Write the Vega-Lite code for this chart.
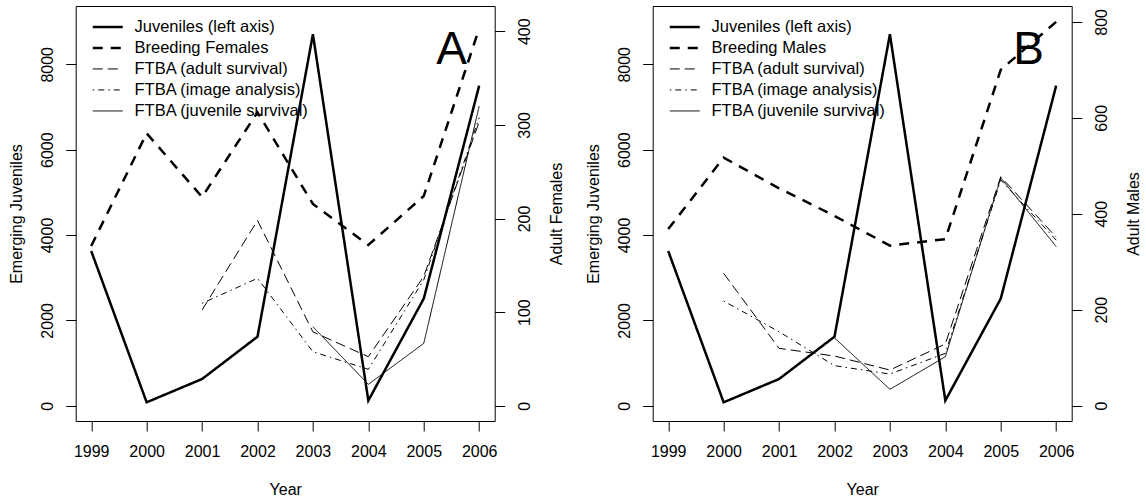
{
  "$schema": "https://vega.github.io/schema/vega-lite/v6.json",
  "autosize": "none",
  "padding": {"left": 75.7, "top": 6, "right": 1070.3, "bottom": 496},
  "background": "white",
  "bounds": "flush",
  "spacing": 158,
  "resolve": {"scale": {"strokeDash": "independent", "strokeWidth": "independent"}, "legend": {"strokeDash": "independent", "strokeWidth": "independent"}},
  "config": {
    "font": "Liberation Sans",
    "view": {"stroke": "black", "strokeWidth": 1},
    "axis": {"grid": false, "domain": false, "tickColor": "black", "tickWidth": 1, "tickSize": 10, "labelColor": "black", "titleColor": "black", "labelFontSize": 16, "titleFontSize": 16, "titleFontWeight": "normal", "labelFlush": false, "labelOverlap": false},
    "legend": {"orient": "none", "legendX": 23.8, "legendY": 12.7, "title": null, "symbolType": "M-2.5,0H2.5", "symbolSize": 144, "symbolStrokeColor": "black", "labelFontSize": 16.5, "labelColor": "black", "labelOffset": 18.5, "labelLimit": 0, "rowPadding": 4, "padding": 0}
  },
  "datasets": {
    "juvA": [
      {"year": 1999, "series": "Juveniles (left axis)", "value": 3625},
      {"year": 2000, "series": "Juveniles (left axis)", "value": 80},
      {"year": 2001, "series": "Juveniles (left axis)", "value": 626},
      {"year": 2002, "series": "Juveniles (left axis)", "value": 1617},
      {"year": 2003, "series": "Juveniles (left axis)", "value": 8703},
      {"year": 2004, "series": "Juveniles (left axis)", "value": 120},
      {"year": 2005, "series": "Juveniles (left axis)", "value": 2510},
      {"year": 2006, "series": "Juveniles (left axis)", "value": 7499},
      {"year": 2001, "series": "FTBA (adult survival)", "value": 2243},
      {"year": 2002, "series": "FTBA (adult survival)", "value": 4340},
      {"year": 2003, "series": "FTBA (adult survival)", "value": 1730},
      {"year": 2004, "series": "FTBA (adult survival)", "value": 1148},
      {"year": 2005, "series": "FTBA (adult survival)", "value": 3030},
      {"year": 2006, "series": "FTBA (adult survival)", "value": 6650},
      {"year": 2001, "series": "FTBA (image analysis)", "value": 2400},
      {"year": 2002, "series": "FTBA (image analysis)", "value": 2985},
      {"year": 2003, "series": "FTBA (image analysis)", "value": 1265},
      {"year": 2004, "series": "FTBA (image analysis)", "value": 853},
      {"year": 2005, "series": "FTBA (image analysis)", "value": 2950},
      {"year": 2006, "series": "FTBA (image analysis)", "value": 6750},
      {"year": 2003, "series": "FTBA (juvenile survival)", "value": 1851},
      {"year": 2004, "series": "FTBA (juvenile survival)", "value": 501},
      {"year": 2005, "series": "FTBA (juvenile survival)", "value": 1461},
      {"year": 2006, "series": "FTBA (juvenile survival)", "value": 7020}
    ],
    "breedA": [
      {"year": 1999, "series": "Breeding Females", "value": 170.6},
      {"year": 2000, "series": "Breeding Females", "value": 291},
      {"year": 2001, "series": "Breeding Females", "value": 223},
      {"year": 2002, "series": "Breeding Females", "value": 313.5},
      {"year": 2003, "series": "Breeding Females", "value": 215.5},
      {"year": 2004, "series": "Breeding Females", "value": 171.7},
      {"year": 2005, "series": "Breeding Females", "value": 224},
      {"year": 2006, "series": "Breeding Females", "value": 403}
    ],
    "juvB": [
      {"year": 1999, "series": "Juveniles (left axis)", "value": 3625},
      {"year": 2000, "series": "Juveniles (left axis)", "value": 80},
      {"year": 2001, "series": "Juveniles (left axis)", "value": 626},
      {"year": 2002, "series": "Juveniles (left axis)", "value": 1617},
      {"year": 2003, "series": "Juveniles (left axis)", "value": 8703},
      {"year": 2004, "series": "Juveniles (left axis)", "value": 120},
      {"year": 2005, "series": "Juveniles (left axis)", "value": 2510},
      {"year": 2006, "series": "Juveniles (left axis)", "value": 7499},
      {"year": 2000, "series": "FTBA (adult survival)", "value": 3102},
      {"year": 2001, "series": "FTBA (adult survival)", "value": 1344},
      {"year": 2002, "series": "FTBA (adult survival)", "value": 1164},
      {"year": 2003, "series": "FTBA (adult survival)", "value": 836},
      {"year": 2004, "series": "FTBA (adult survival)", "value": 1446},
      {"year": 2005, "series": "FTBA (adult survival)", "value": 5366},
      {"year": 2006, "series": "FTBA (adult survival)", "value": 3950},
      {"year": 2000, "series": "FTBA (image analysis)", "value": 2453},
      {"year": 2001, "series": "FTBA (image analysis)", "value": 1734},
      {"year": 2002, "series": "FTBA (image analysis)", "value": 938},
      {"year": 2003, "series": "FTBA (image analysis)", "value": 742},
      {"year": 2004, "series": "FTBA (image analysis)", "value": 1227},
      {"year": 2005, "series": "FTBA (image analysis)", "value": 5290},
      {"year": 2006, "series": "FTBA (image analysis)", "value": 3880},
      {"year": 2002, "series": "FTBA (juvenile survival)", "value": 1590},
      {"year": 2003, "series": "FTBA (juvenile survival)", "value": 384},
      {"year": 2004, "series": "FTBA (juvenile survival)", "value": 1148},
      {"year": 2005, "series": "FTBA (juvenile survival)", "value": 5340},
      {"year": 2006, "series": "FTBA (juvenile survival)", "value": 3730}
    ],
    "breedB": [
      {"year": 1999, "series": "Breeding Males", "value": 368},
      {"year": 2000, "series": "Breeding Males", "value": 517},
      {"year": 2001, "series": "Breeding Males", "value": 453},
      {"year": 2002, "series": "Breeding Males", "value": 395.5},
      {"year": 2003, "series": "Breeding Males", "value": 333.6},
      {"year": 2004, "series": "Breeding Males", "value": 347},
      {"year": 2005, "series": "Breeding Males", "value": 700},
      {"year": 2006, "series": "Breeding Males", "value": 800}
    ],
    "labA": [{"year": 2005.5, "value": 8000, "label": "A"}],
    "labB": [{"year": 2005.5, "value": 8000, "label": "B"}]
  },
  "hconcat": [
    {
      "width": 419,
      "height": 415,
      "layer": [
        {
          "encoding": {
            "x": {"field": "year", "type": "quantitative", "scale": {"domain": [1998.72, 2006.28], "nice": false, "zero": false},
              "axis": {"values": [1999, 2000, 2001, 2002, 2003, 2004, 2005, 2006], "format": "d", "title": "Year", "labelPadding": 12, "titleBaseline": "alphabetic", "titleY": 73.5, "titleAlign": "center", "titleX": 209.5}},
            "y": {"field": "value", "type": "quantitative", "scale": {"domain": [-358, 9366], "nice": false, "zero": false},
              "axis": {"orient": "left", "values": [0, 2000, 4000, 6000, 8000], "format": "d", "title": "Emerging Juveniles", "labelAngle": 270, "labelAlign": "center", "labelBaseline": "bottom", "labelPadding": 10, "titleAngle": 270, "titleBaseline": "bottom", "titleAlign": "center", "titleX": -51.6, "titleY": 207.5}}
          },
          "layer": [
            {
              "data": {"name": "juvA"},
              "mark": {"type": "line", "color": "black"},
              "encoding": {
                "strokeDash": {"field": "series", "type": "nominal", "scale": {"domain": ["Juveniles (left axis)", "Breeding Females", "FTBA (adult survival)", "FTBA (image analysis)", "FTBA (juvenile survival)"], "range": [[1, 0], [10, 8], [10, 5], [1.5, 4, 6, 4], [1, 0]]}},
                "strokeWidth": {"field": "series", "type": "nominal", "scale": {"type": "ordinal", "domain": ["Juveniles (left axis)", "Breeding Females", "FTBA (adult survival)", "FTBA (image analysis)", "FTBA (juvenile survival)"], "range": [2.5, 2.5, 1, 1, 1]}}
              }
            },
            {
              "data": {"name": "labA"},
              "mark": {"type": "text", "fontSize": 46, "align": "center", "baseline": "alphabetic", "color": "black"},
              "encoding": {"text": {"field": "label"}}
            }
          ]
        },
        {
          "data": {"name": "breedA"},
          "mark": {"type": "line", "color": "black"},
          "encoding": {
            "x": {"field": "year", "type": "quantitative", "scale": {"domain": [1998.72, 2006.28], "nice": false, "zero": false}},
            "y": {"field": "value", "type": "quantitative", "scale": {"domain": [-16.3, 427], "nice": false, "zero": false},
              "axis": {"orient": "right", "values": [0, 100, 200, 300, 400], "format": "d", "title": "Adult Females", "labelAngle": 270, "labelAlign": "center", "labelBaseline": "top", "labelPadding": 12, "titleAngle": 270, "titleBaseline": "top", "titleAlign": "center", "titleX": 53.9, "titleY": 207.5}},
            "strokeDash": {"field": "series", "type": "nominal", "scale": {"domain": ["Juveniles (left axis)", "Breeding Females", "FTBA (adult survival)", "FTBA (image analysis)", "FTBA (juvenile survival)"], "range": [[1, 0], [10, 8], [10, 5], [1.5, 4, 6, 4], [1, 0]]}},
            "strokeWidth": {"field": "series", "type": "nominal", "scale": {"type": "ordinal", "domain": ["Juveniles (left axis)", "Breeding Females", "FTBA (adult survival)", "FTBA (image analysis)", "FTBA (juvenile survival)"], "range": [2.5, 2.5, 1, 1, 1]}}
          }
        }
      ],
      "resolve": {"scale": {"y": "independent"}, "axis": {"y": "independent"}}
    },
    {
      "width": 419,
      "height": 415,
      "layer": [
        {
          "encoding": {
            "x": {"field": "year", "type": "quantitative", "scale": {"domain": [1998.72, 2006.28], "nice": false, "zero": false},
              "axis": {"values": [1999, 2000, 2001, 2002, 2003, 2004, 2005, 2006], "format": "d", "title": "Year", "labelPadding": 12, "titleBaseline": "alphabetic", "titleY": 73.5, "titleAlign": "center", "titleX": 209.5}},
            "y": {"field": "value", "type": "quantitative", "scale": {"domain": [-358, 9366], "nice": false, "zero": false},
              "axis": {"orient": "left", "values": [0, 2000, 4000, 6000, 8000], "format": "d", "title": "Emerging Juveniles", "labelAngle": 270, "labelAlign": "center", "labelBaseline": "bottom", "labelPadding": 10, "titleAngle": 270, "titleBaseline": "bottom", "titleAlign": "center", "titleX": -51.6, "titleY": 207.5}}
          },
          "layer": [
            {
              "data": {"name": "juvB"},
              "mark": {"type": "line", "color": "black"},
              "encoding": {
                "strokeDash": {"field": "series", "type": "nominal", "scale": {"domain": ["Juveniles (left axis)", "Breeding Males", "FTBA (adult survival)", "FTBA (image analysis)", "FTBA (juvenile survival)"], "range": [[1, 0], [10, 8], [10, 5], [1.5, 4, 6, 4], [1, 0]]}},
                "strokeWidth": {"field": "series", "type": "nominal", "scale": {"type": "ordinal", "domain": ["Juveniles (left axis)", "Breeding Males", "FTBA (adult survival)", "FTBA (image analysis)", "FTBA (juvenile survival)"], "range": [2.5, 2.5, 1, 1, 1]}}
              }
            },
            {
              "data": {"name": "labB"},
              "mark": {"type": "text", "fontSize": 46, "align": "center", "baseline": "alphabetic", "color": "black"},
              "encoding": {"text": {"field": "label"}}
            }
          ]
        },
        {
          "data": {"name": "breedB"},
          "mark": {"type": "line", "color": "black"},
          "encoding": {
            "x": {"field": "year", "type": "quantitative", "scale": {"domain": [1998.72, 2006.28], "nice": false, "zero": false}},
            "y": {"field": "value", "type": "quantitative", "scale": {"domain": [-32, 833], "nice": false, "zero": false},
              "axis": {"orient": "right", "values": [0, 200, 400, 600, 800], "format": "d", "title": "Adult Males", "labelAngle": 270, "labelAlign": "center", "labelBaseline": "top", "labelPadding": 12, "titleAngle": 270, "titleBaseline": "top", "titleAlign": "center", "titleX": 53.9, "titleY": 207.5}},
            "strokeDash": {"field": "series", "type": "nominal", "scale": {"domain": ["Juveniles (left axis)", "Breeding Males", "FTBA (adult survival)", "FTBA (image analysis)", "FTBA (juvenile survival)"], "range": [[1, 0], [10, 8], [10, 5], [1.5, 4, 6, 4], [1, 0]]}},
            "strokeWidth": {"field": "series", "type": "nominal", "scale": {"type": "ordinal", "domain": ["Juveniles (left axis)", "Breeding Males", "FTBA (adult survival)", "FTBA (image analysis)", "FTBA (juvenile survival)"], "range": [2.5, 2.5, 1, 1, 1]}}
          }
        }
      ],
      "resolve": {"scale": {"y": "independent"}, "axis": {"y": "independent"}}
    }
  ]
}
